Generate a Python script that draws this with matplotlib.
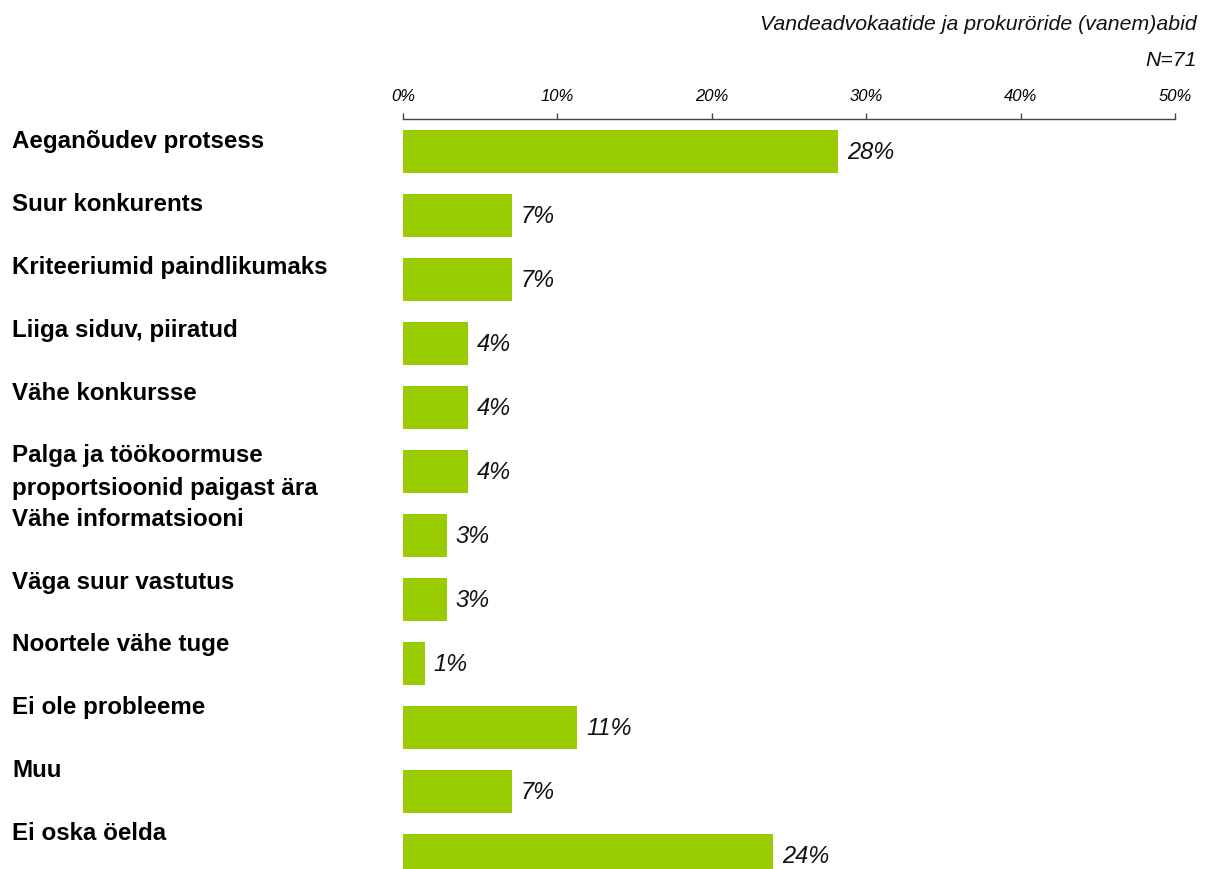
import matplotlib
matplotlib.use("Agg")
import matplotlib.pyplot as plt
from matplotlib.ticker import FixedLocator

plt.rcParams['font.family'] = ['Liberation Sans', 'DejaVu Sans']

categories = [
    "Aeganõudev protsess",
    "Suur konkurents",
    "Kriteeriumid paindlikumaks",
    "Liiga siduv, piiratud",
    "Vähe konkursse",
    "Palga ja töökoormuse\nproportsioonid paigast ära",
    "Vähe informatsiooni",
    "Väga suur vastutus",
    "Noortele vähe tuge",
    "Ei ole probleeme",
    "Muu",
    "Ei oska öelda",
]
values = [28.17, 7.04, 7.04, 4.23, 4.23, 4.23, 2.82, 2.82, 1.41, 11.27, 7.04, 23.94]
value_labels = ["28%", "7%", "7%", "4%", "4%", "4%", "3%", "3%", "1%", "11%", "7%", "24%"]
xticks = [0, 10, 20, 30, 40, 50]
xtick_labels = ["0%", "10%", "20%", "30%", "40%", "50%"]
title_lines = ["Vandeadvokaatide ja prokuröride (vanem)abid", "N=71"]

W, H = 1205, 870
fig = plt.figure(figsize=(W / 100, H / 100), dpi=100)

# axes: x from px 403 to 1175, y from px 120 to 870
ax = fig.add_axes([403 / W, 0, (1175 - 403) / W, (H - 120) / H])
ypos = list(range(len(categories)))
ax.barh(ypos, values, height=0.67, color="#99CC00")
ax.set_xlim(0, 50)
ax.set_ylim((870 - 152.5) / 64, -32.5 / 64)

ax.xaxis.tick_top()
ax.xaxis.set_major_locator(FixedLocator(xticks))
ax.set_xticklabels(xtick_labels, fontstyle="italic", fontsize=12, color="#000000")
ax.tick_params(axis="x", direction="out", length=4.5, width=1, color="#444444", pad=7)
ax.set_yticks([])
for s in ["left", "right", "bottom"]:
    ax.spines[s].set_visible(False)
ax.spines["top"].set_color("#444444")
ax.spines["top"].set_linewidth(1)

for y, v, lab in zip(ypos, values, value_labels):
    ax.annotate(lab, xy=(v, y), xytext=(6.5, 0), textcoords="offset points",
                va="center", ha="left", fontsize=17, fontstyle="italic", color="#111111")

# category labels (separate column, slightly different spacing)
line_gap = 32
for i, cat in enumerate(categories):
    nlines = cat.count("\n") + 1
    ybase = 148.3 + 62.9 * i + line_gap * (nlines - 1)
    fig.text(12 / W, 1 - ybase / H, cat, ha="left", va="baseline",
             fontsize=17.4, fontweight="bold", color="#000000", linespacing=1.52)

fig.text(1197 / W, 1 - 24 / H, title_lines[0], ha="right", va="center",
         fontsize=15.3, fontstyle="italic", color="#111111")
fig.text(1197 / W, 1 - 60 / H, title_lines[1], ha="right", va="center",
         fontsize=15.3, fontstyle="italic", color="#111111")

fig.savefig("out.png", dpi=100)
